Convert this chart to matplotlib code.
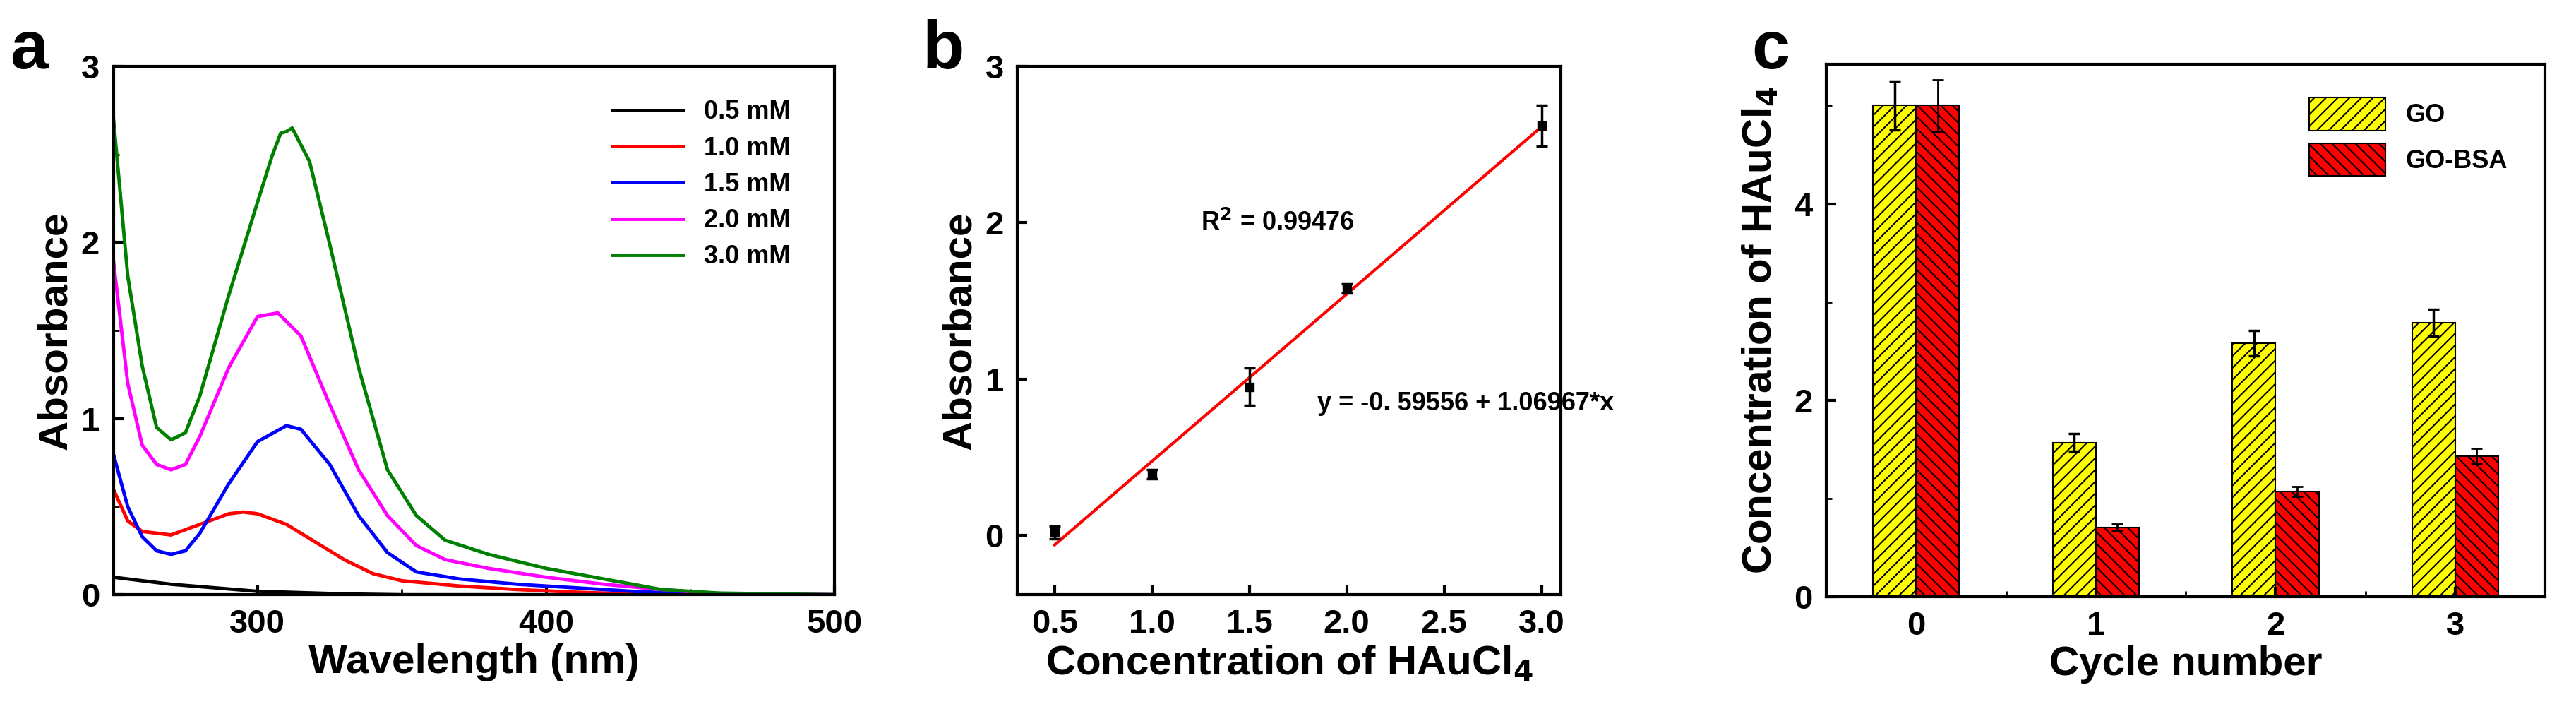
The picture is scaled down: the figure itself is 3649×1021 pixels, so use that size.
import matplotlib
matplotlib.use("Agg")
import matplotlib.pyplot as plt
import numpy as np

plt.rcParams['font.family'] = ['Liberation Sans', 'DejaVu Sans']
plt.rcParams['font.weight'] = 'bold'
plt.rcParams['hatch.linewidth'] = 1.5

# panel a: UV-vis spectra
wl_black = [250, 270, 300, 330, 350, 500]
ab_black = [0.10, 0.06, 0.02, 0.005, 0.0, 0.0]
wl_red = [250, 255, 260, 265, 270, 280, 290, 295, 300, 310, 320, 330, 340, 350, 370, 390, 410, 430, 500]
ab_red = [0.60, 0.42, 0.36, 0.35, 0.34, 0.40, 0.46, 0.47, 0.46, 0.40, 0.30, 0.20, 0.12, 0.08, 0.05, 0.03, 0.015, 0.005, 0.0]
wl_blue = [250, 255, 260, 265, 270, 275, 280, 290, 300, 310, 315, 325, 335, 345, 355, 370, 390, 410, 430, 450, 500]
ab_blue = [0.80, 0.50, 0.33, 0.25, 0.23, 0.25, 0.35, 0.63, 0.87, 0.96, 0.94, 0.74, 0.45, 0.24, 0.13, 0.09, 0.06, 0.04, 0.02, 0.005, 0.0]
wl_mag = [250, 255, 260, 265, 270, 275, 280, 290, 300, 307, 315, 325, 335, 345, 355, 365, 380, 400, 420, 440, 460, 500]
ab_mag = [1.90, 1.20, 0.85, 0.74, 0.71, 0.74, 0.90, 1.29, 1.58, 1.60, 1.47, 1.08, 0.71, 0.45, 0.28, 0.20, 0.15, 0.10, 0.06, 0.03, 0.005, 0.0]
wl_green = [250, 255, 260, 265, 270, 275, 280, 290, 300, 305, 308, 310, 312, 318, 325, 335, 345, 355, 365, 380, 400, 420, 440, 460, 480, 500]
ab_green = [2.71, 1.81, 1.30, 0.95, 0.88, 0.92, 1.13, 1.70, 2.23, 2.49, 2.62, 2.63, 2.65, 2.46, 1.99, 1.29, 0.71, 0.45, 0.31, 0.23, 0.15, 0.09, 0.03, 0.01, 0.005, 0.0]
spectra = [(wl_black, ab_black, 'black', '0.5 mM'),
           (wl_red, ab_red, 'red', '1.0 mM'),
           (wl_blue, ab_blue, 'blue', '1.5 mM'),
           (wl_mag, ab_mag, 'magenta', '2.0 mM'),
           (wl_green, ab_green, 'green', '3.0 mM')]

# panel b: calibration
conc = [0.5, 1.0, 1.5, 2.0, 3.0]
absb = [0.02, 0.39, 0.95, 1.58, 2.62]
abs_err = [0.04, 0.03, 0.12, 0.03, 0.13]
fit_a, fit_b = -0.59556, 1.06967

# panel c: cycles
cycles = [0, 1, 2, 3]
go_vals = [5.0, 1.57, 2.58, 2.79]
go_err = [0.25, 0.09, 0.13, 0.14]
bsa_vals = [5.0, 0.71, 1.07, 1.43]
bsa_err = [0.26, 0.03, 0.05, 0.08]

fig = plt.figure(figsize=(36.49, 10.21), dpi=100)
TICK = 34
LAB = 42

def style(ax):
    for s in ax.spines.values():
        s.set_linewidth(3)
    ax.tick_params(direction='in', width=3, length=10, labelsize=TICK, pad=14)
    ax.tick_params(which='minor', direction='in', width=2, length=6)

ax1 = fig.add_axes([0.044, 0.175, 0.280, 0.733])
for x, y, c, l in spectra:
    ax1.plot(x, y, color=c, lw=3.5, label=l)
ax1.set_xlim(250, 500)
ax1.set_ylim(0, 3)
ax1.set_xticks([300, 400, 500])
ax1.set_xticks([350, 450], minor=True)
ax1.set_yticks([0, 1, 2, 3])
ax1.set_yticks([0.5, 1.5, 2.5], minor=True)
style(ax1)
ax1.set_xlabel('Wavelength (nm)', fontsize=LAB, fontweight='bold')
ax1.set_ylabel('Absorbance', fontsize=LAB, fontweight='bold', labelpad=6)
ax1.legend(loc='upper right', frameon=False, fontsize=26, handlelength=2.8,
           bbox_to_anchor=(0.97, 0.98), labelspacing=0.45)
fig.text(0.004, 0.905, 'a', fontsize=70, fontweight='bold')

ax2 = fig.add_axes([0.395, 0.175, 0.211, 0.733])
xf = np.array([0.5, 3.0])
ax2.plot(xf, fit_a + fit_b * xf, color='red', lw=3)
ax2.errorbar(conc, absb, yerr=abs_err, fmt='s', color='black', ms=9,
             capsize=6, elinewidth=2.5, capthick=2.5)
ax2.set_xlim(0.31, 3.1)
ax2.set_ylim(-0.38, 3)
ax2.set_xticks([0.5, 1.0, 1.5, 2.0, 2.5, 3.0])
ax2.set_xticklabels(['0.5', '1.0', '1.5', '2.0', '2.5', '3.0'])
ax2.set_yticks([0, 1, 2, 3])
style(ax2)
ax2.set_xlabel('Concentration of HAuCl$_\\mathbf{4}$', fontsize=LAB, fontweight='bold')
ax2.set_ylabel('Absorbance', fontsize=LAB, fontweight='bold', labelpad=6)
ax2.text(1.25, 1.95, 'R$^\\mathbf{2}$ = 0.99476', fontsize=26, fontweight='bold')
ax2.text(1.85, 0.8, 'y = -0. 59556 + 1.06967*x', fontsize=26, fontweight='bold')
fig.text(0.358, 0.905, 'b', fontsize=70, fontweight='bold')

ax3 = fig.add_axes([0.709, 0.172, 0.279, 0.739])
xc = np.array(cycles)
w = 0.24
ax3.bar(xc - w / 2, go_vals, w, yerr=go_err, color='yellow', edgecolor='black',
        hatch='//', lw=1.5, label='GO',
        error_kw=dict(elinewidth=2.5, capsize=6, capthick=2.5))
ax3.bar(xc + w / 2, bsa_vals, w, yerr=bsa_err, color='red', edgecolor='black',
        hatch='\\\\', lw=1.5, label='GO-BSA',
        error_kw=dict(elinewidth=2, capsize=6, capthick=2))
ax3.set_xlim(-0.5, 3.5)
ax3.set_ylim(0, 5.42)
ax3.set_xticks(cycles)
ax3.set_xticks([0.5, 1.5, 2.5], minor=True)
ax3.set_yticks([0, 2, 4])
ax3.set_yticks([1, 3, 5], minor=True)
style(ax3)
ax3.set_xlabel('Cycle number', fontsize=LAB, fontweight='bold')
ax3.set_ylabel('Concentration of HAuCl$_\\mathbf{4}$', fontsize=LAB, fontweight='bold', labelpad=14)
ax3.legend(loc='upper right', fontsize=26, frameon=False, handlelength=3.0,
           handleheight=1.6, bbox_to_anchor=(0.98, 0.98))
fig.text(0.680, 0.905, 'c', fontsize=70, fontweight='bold')

fig.savefig('out.png', dpi=100)
